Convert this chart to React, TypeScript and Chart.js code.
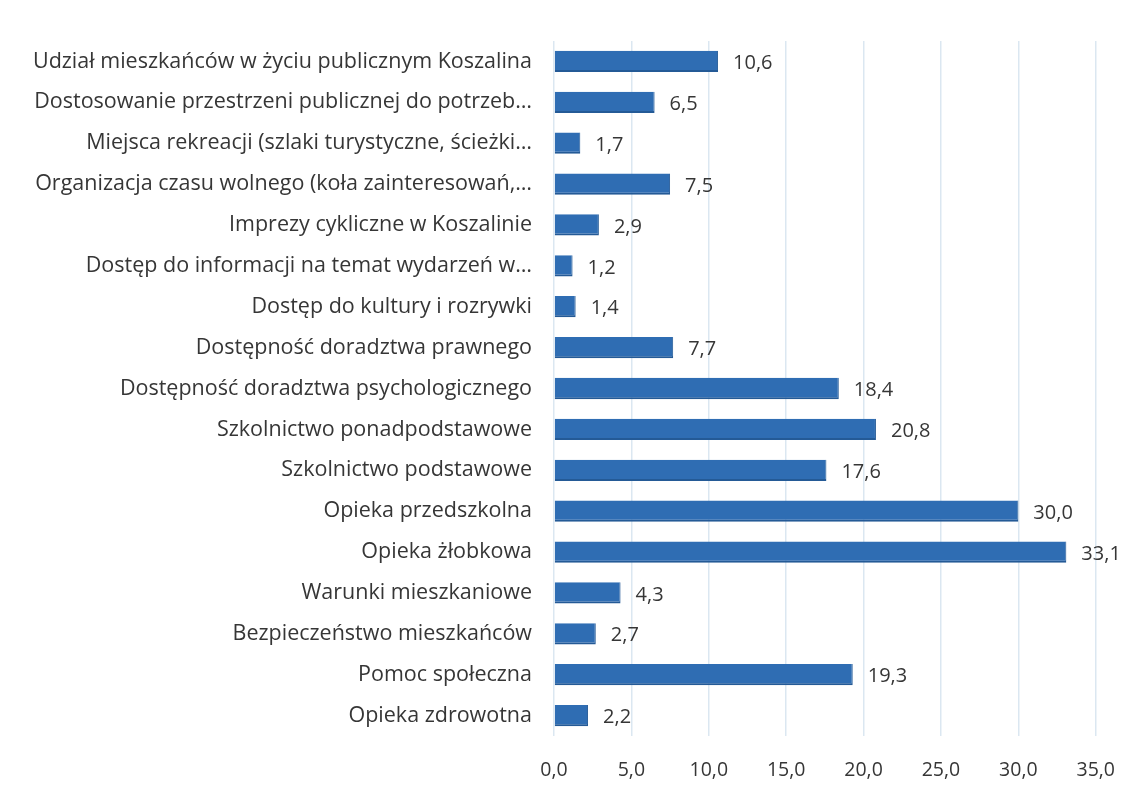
import React, { useEffect, useRef } from "react";
import { Chart, registerables } from "chart.js";

Chart.register(...registerables);

const categories: string[] = [
  "Udział mieszkańców w życiu publicznym Koszalina",
  "Dostosowanie przestrzeni publicznej do potrzeb…",
  "Miejsca rekreacji (szlaki turystyczne, ścieżki…",
  "Organizacja czasu wolnego (koła zainteresowań,…",
  "Imprezy cykliczne w Koszalinie",
  "Dostęp do informacji na temat wydarzeń w…",
  "Dostęp do kultury i rozrywki",
  "Dostępność doradztwa prawnego",
  "Dostępność doradztwa psychologicznego",
  "Szkolnictwo ponadpodstawowe",
  "Szkolnictwo podstawowe",
  "Opieka przedszkolna",
  "Opieka żłobkowa",
  "Warunki mieszkaniowe",
  "Bezpieczeństwo mieszkańców",
  "Pomoc społeczna",
  "Opieka zdrowotna",
];

const values: number[] = [10.6, 6.5, 1.7, 7.5, 2.9, 1.2, 1.4, 7.7, 18.4, 20.8, 17.6, 30.0, 33.1, 4.3, 2.7, 19.3, 2.2];

const xMin = 0;
const xMax = 35;
const xStep = 5;

const FONT = "'Open Sans', 'Noto Sans', sans-serif";
const TEXT = "#363636";

const fmt = (v: number) => v.toFixed(1).replace(".", ",");

const valueLabels = {
  id: "valueLabels",
  afterDatasetsDraw(chart: any) {
    const { ctx } = chart;
    const meta = chart.getDatasetMeta(0);
    ctx.save();
    ctx.font = `20px ${FONT}`;
    ctx.fillStyle = TEXT;
    ctx.textAlign = "left";
    ctx.textBaseline = "middle";
    meta.data.forEach((bar: any, i: number) => {
      ctx.fillText(fmt(values[i]), bar.x + 15, bar.y + 2);
    });
    ctx.restore();
  },
};

export default function App() {
  const ref = useRef<HTMLCanvasElement | null>(null);
  useEffect(() => {
    if (!ref.current) return;
    const chart = new Chart(ref.current, {
      type: "bar",
      data: {
        labels: categories,
        datasets: [
          {
            data: values,
            backgroundColor: "#2f6db3",
            borderColor: "#245a96",
            borderWidth: { bottom: 2, top: 0, left: 0, right: 1 } as any,
            borderSkipped: false,
            barPercentage: 0.52,
            categoryPercentage: 1,
          },
        ],
      },
      options: {
        indexAxis: "y",
        animation: false,
        responsive: true,
        maintainAspectRatio: false,
        layout: { padding: { top: 41, right: 36, bottom: 10, left: 10 } },
        plugins: { legend: { display: false }, tooltip: { enabled: false } },
        scales: {
          x: {
            min: xMin,
            max: xMax,
            ticks: {
              stepSize: xStep,
              padding: 23,
              color: TEXT,
              font: { family: FONT, size: 19.5 },
              callback: (v: any) => fmt(Number(v)),
            },
            grid: { color: "#dbe7f1", lineWidth: 1.5, drawTicks: false },
            border: { display: false },
            afterFit: (scale: any) => {
              scale.height = 45;
            },
          },
          y: {
            ticks: {
              padding: 14,
              color: TEXT,
              font: { family: FONT, size: 21.5 },
              autoSkip: false,
            },
            grid: { display: false },
            border: { display: false },
            afterFit: (scale: any) => {
              scale.width = 544;
            },
          },
        },
      },
      plugins: [valueLabels],
    });
    return () => chart.destroy();
  }, []);
  return (
    <div style={{ position: "fixed", left: 0, top: 0, width: 1138, height: 791, background: "#fff" }}>
      <canvas ref={ref} />
    </div>
  );
}
